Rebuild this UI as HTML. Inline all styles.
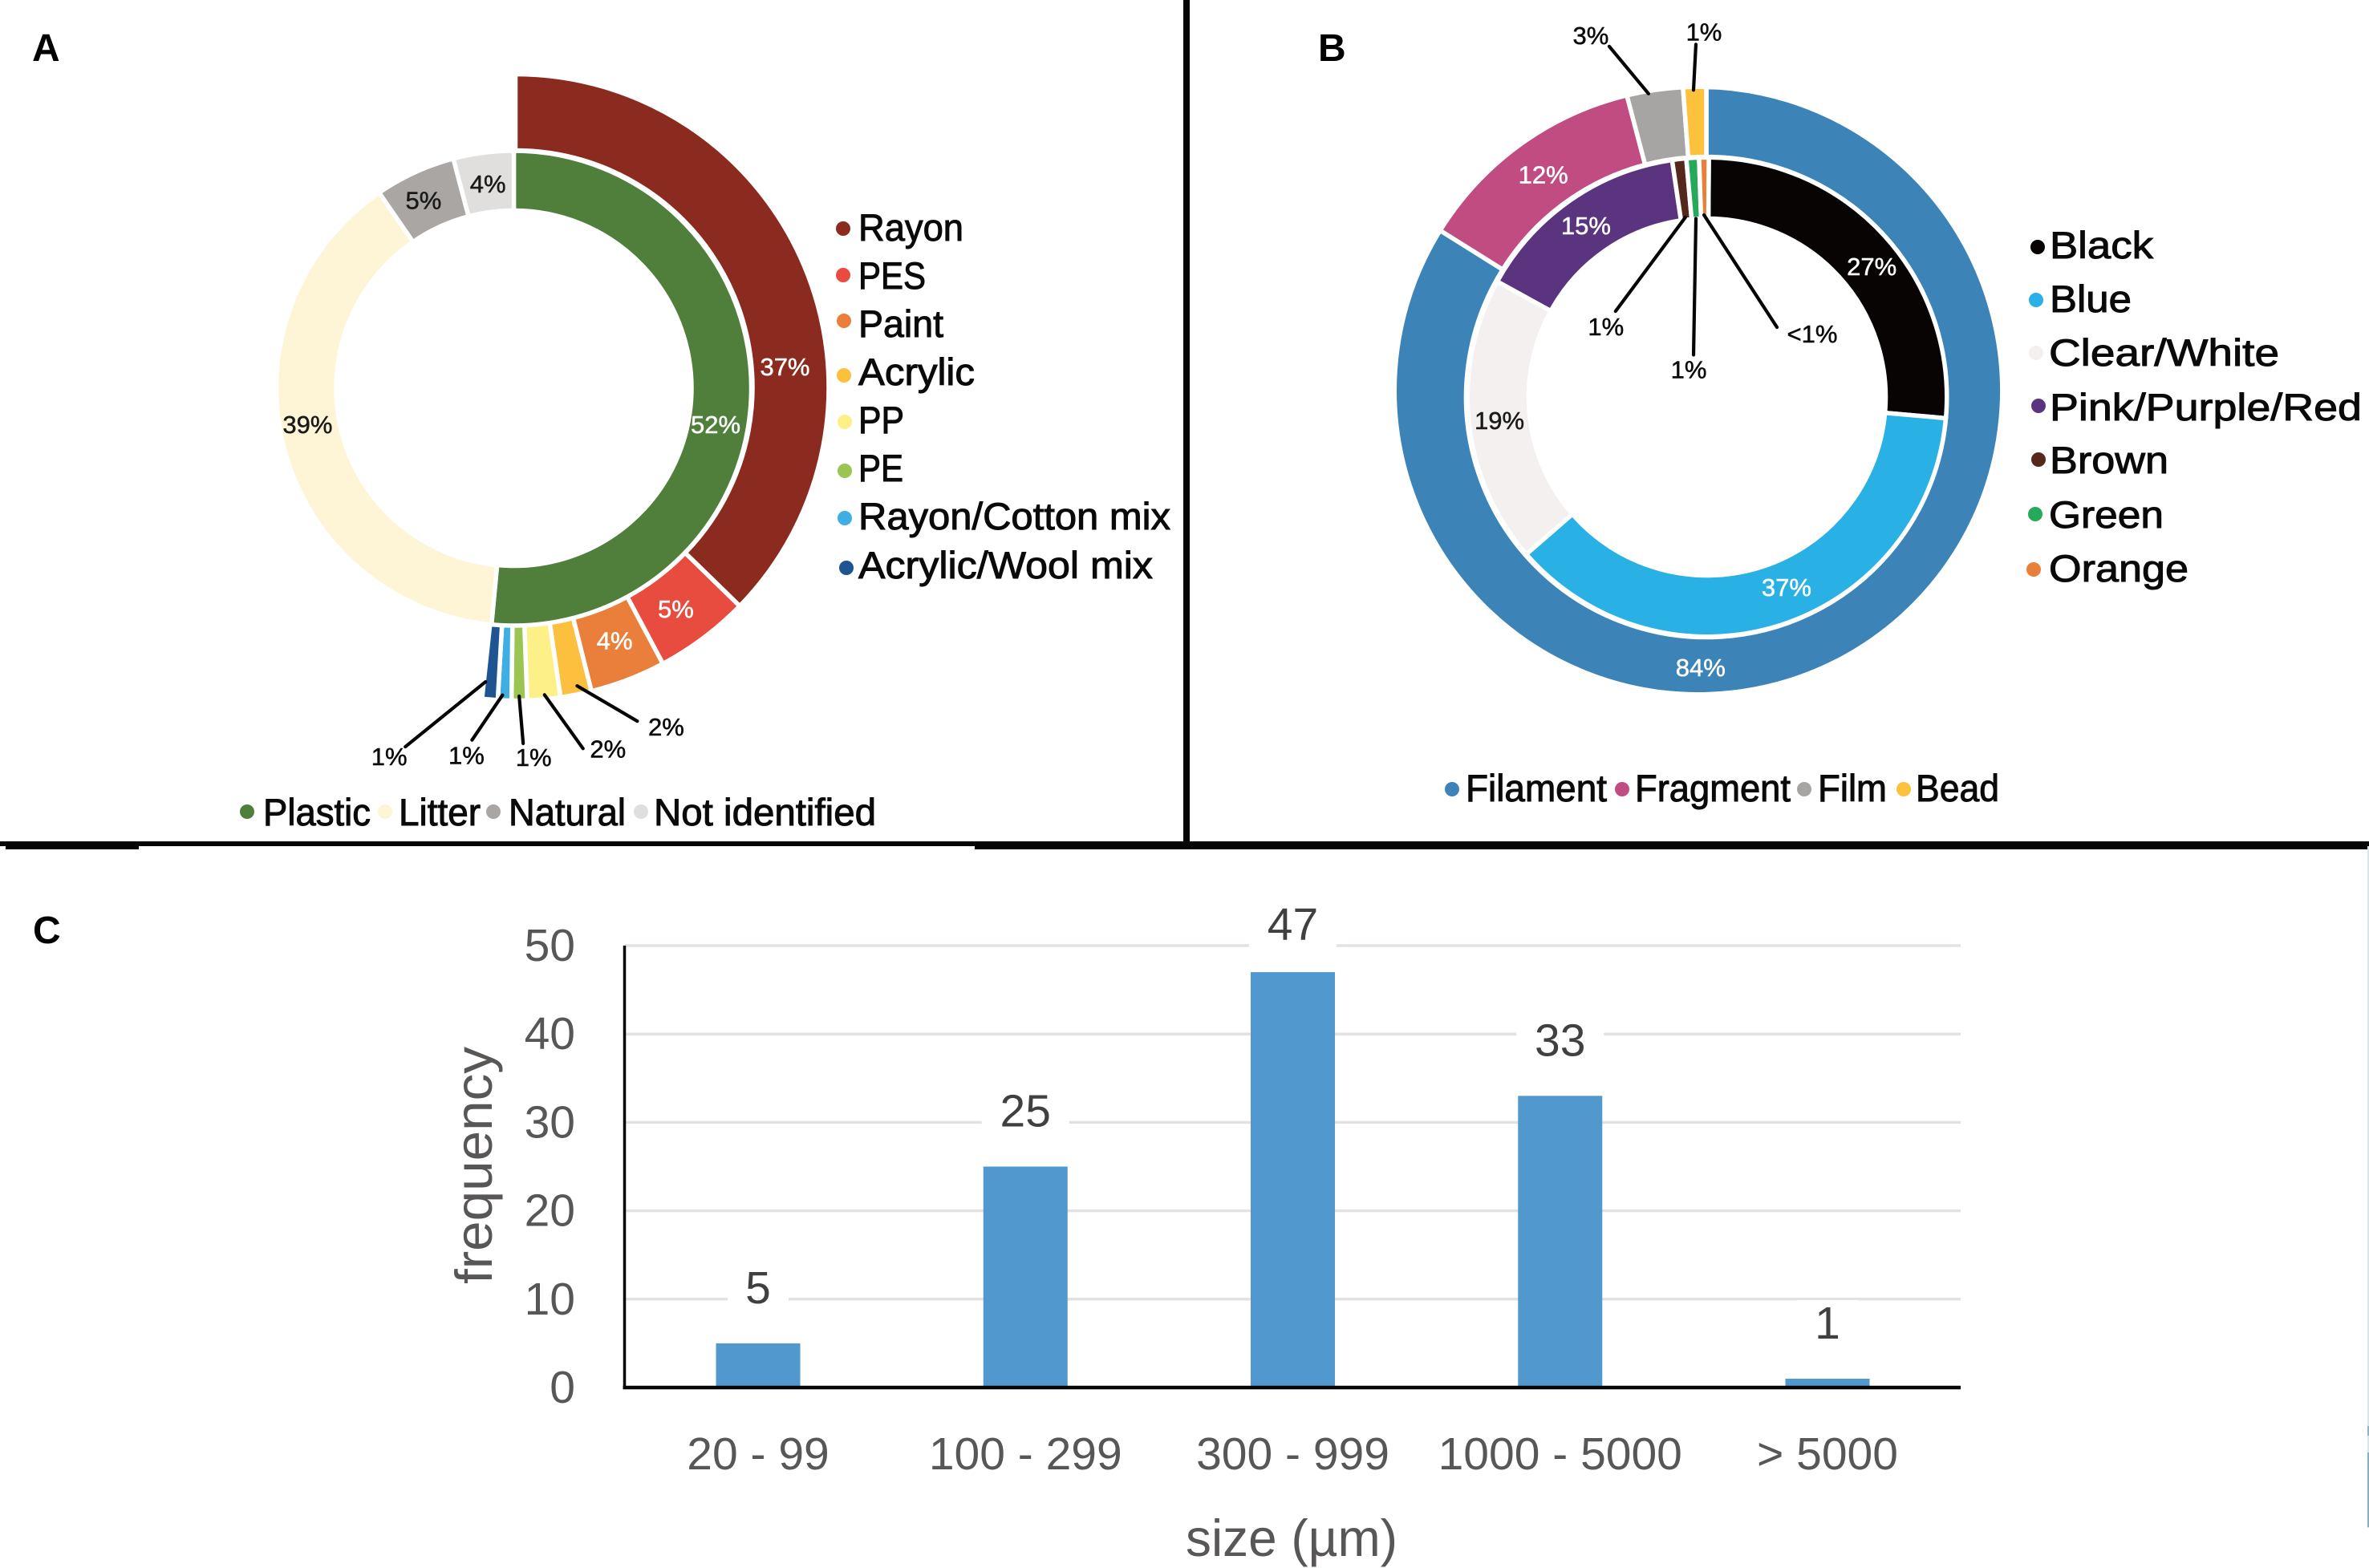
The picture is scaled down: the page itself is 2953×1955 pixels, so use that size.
<!DOCTYPE html>
<html lang="en">
<head>
<meta charset="utf-8">
<title>Microplastic composition and size distribution</title>
<style>
html,body{margin:0;padding:0;background:#fff;}
svg{display:block;}
text{font-family:"Liberation Sans",sans-serif;}
.legend{font-size:47px;fill:#0a0a0a;stroke:#0a0a0a;stroke-width:1px;}
.panel{font-size:48px;font-weight:bold;fill:#000;}
.pct{font-size:31px;text-anchor:middle;stroke-width:.5px;}
.axis{font-size:57px;fill:#595656;}
.title{font-size:65px;fill:#595656;}
</style>
</head>
<body>
<svg id="fig" xmlns="http://www.w3.org/2000/svg" width="2953" height="1955" viewBox="0 0 2953 1955">
<rect x="0" y="0" width="2953" height="1955" fill="#ffffff"/>

<g fill="#050505">
  <rect x="1475" y="0" width="8" height="1052"/>
  <rect x="0" y="1049" width="2953" height="6"/>
  <rect x="7" y="1052" width="166" height="7"/>
  <rect x="1215" y="1052" width="1738" height="7"/>
</g>
<g>
  <rect x="2951" y="1055" width="2" height="850" fill="#d5e6ea"/>
  <rect x="2951" y="1778" width="2" height="12" fill="#8ab6c6"/>
  <rect x="2951" y="1811" width="2" height="93" fill="#7fb2c4"/>
</g>

<text class="panel" x="40" y="76">A</text>
<text class="panel" x="1643" y="76">B</text>
<text class="panel" x="41" y="1176">C</text>

<g id="chartA"></g>
<g id="chartB"></g>
<g id="chartC"></g>

<g>
  <g><circle cx="1051" cy="285" r="9" fill="#8B2A1E"/><text class="legend" x="1070" y="300" textLength="131" lengthAdjust="spacingAndGlyphs">Rayon</text></g>
  <g><circle cx="1051" cy="343" r="9" fill="#E74C3F"/><text class="legend" x="1070" y="360" textLength="84" lengthAdjust="spacingAndGlyphs">PES</text></g>
  <g><circle cx="1052" cy="400" r="9" fill="#E97F3A"/><text class="legend" x="1070" y="420" textLength="106" lengthAdjust="spacingAndGlyphs">Paint</text></g>
  <g><circle cx="1052" cy="468" r="9" fill="#FCBF3E"/><text class="legend" x="1070" y="480" textLength="145" lengthAdjust="spacingAndGlyphs">Acrylic</text></g>
  <g><circle cx="1053" cy="526" r="9" fill="#FEF089"/><text class="legend" x="1070" y="540" textLength="57" lengthAdjust="spacingAndGlyphs">PP</text></g>
  <g><circle cx="1053" cy="587" r="9" fill="#9BC552"/><text class="legend" x="1070" y="600" textLength="56" lengthAdjust="spacingAndGlyphs">PE</text></g>
  <g><circle cx="1053" cy="646" r="9" fill="#3FAEE2"/><text class="legend" x="1070" y="660" textLength="389" lengthAdjust="spacingAndGlyphs">Rayon/Cotton mix</text></g>
  <g><circle cx="1055" cy="708" r="9" fill="#1F5493"/><text class="legend" x="1070" y="721" textLength="367" lengthAdjust="spacingAndGlyphs">Acrylic/Wool mix</text></g>
</g>
<g>
  <g><circle cx="308" cy="1012" r="9" fill="#4F7F3B"/><text class="legend" x="328" y="1029" textLength="134" lengthAdjust="spacingAndGlyphs">Plastic</text></g>
  <g><circle cx="480" cy="1012" r="9" fill="#FEF5D6"/><text class="legend" x="497" y="1029" textLength="102" lengthAdjust="spacingAndGlyphs">Litter</text></g>
  <g><circle cx="615" cy="1012" r="9" fill="#A9A6A3"/><text class="legend" x="634" y="1029" textLength="146" lengthAdjust="spacingAndGlyphs">Natural</text></g>
  <g><circle cx="799" cy="1012" r="9" fill="#E1DFDD"/><text class="legend" x="815" y="1029" textLength="277" lengthAdjust="spacingAndGlyphs">Not identified</text></g>
</g>
<g>
  <g><circle cx="2540" cy="308" r="9" fill="#070403"/><text class="legend" x="2555" y="322" textLength="129" lengthAdjust="spacingAndGlyphs">Black</text></g>
  <g><circle cx="2538" cy="374" r="9" fill="#29B0E5"/><text class="legend" x="2555" y="389" textLength="102" lengthAdjust="spacingAndGlyphs">Blue</text></g>
  <g><circle cx="2538" cy="440" r="9" fill="#F4F0EF"/><text class="legend" x="2554" y="456" textLength="287" lengthAdjust="spacingAndGlyphs">Clear/White</text></g>
  <g><circle cx="2541" cy="506" r="9" fill="#5B3480"/><text class="legend" x="2555" y="524" textLength="389" lengthAdjust="spacingAndGlyphs">Pink/Purple/Red</text></g>
  <g><circle cx="2541" cy="573" r="9" fill="#54281B"/><text class="legend" x="2555" y="590" textLength="148" lengthAdjust="spacingAndGlyphs">Brown</text></g>
  <g><circle cx="2537" cy="641" r="9" fill="#27A95B"/><text class="legend" x="2554" y="658" textLength="143" lengthAdjust="spacingAndGlyphs">Green</text></g>
  <g><circle cx="2535" cy="710" r="9" fill="#E87F3A"/><text class="legend" x="2554" y="725" textLength="174" lengthAdjust="spacingAndGlyphs">Orange</text></g>
</g>
<g>
  <g><circle cx="1810" cy="984" r="9" fill="#3C83B8"/><text class="legend" x="1827" y="999" textLength="176" lengthAdjust="spacingAndGlyphs">Filament</text></g>
  <g><circle cx="2022" cy="984" r="9" fill="#C04C82"/><text class="legend" x="2038" y="999" textLength="194" lengthAdjust="spacingAndGlyphs">Fragment</text></g>
  <g><circle cx="2249" cy="984" r="9" fill="#A6A5A3"/><text class="legend" x="2266" y="999" textLength="86" lengthAdjust="spacingAndGlyphs">Film</text></g>
  <g><circle cx="2373" cy="984" r="9" fill="#FDC13C"/><text class="legend" x="2388" y="999" textLength="104" lengthAdjust="spacingAndGlyphs">Bead</text></g>
</g>

<text class="title" x="1610" y="1940" text-anchor="middle" textLength="264" lengthAdjust="spacingAndGlyphs">size (µm)</text>
<text class="title" transform="translate(613 1453) rotate(-90)" text-anchor="middle" textLength="296" lengthAdjust="spacingAndGlyphs">frequency</text>
</svg>

<script>
// ---- Panel A data (percent of all particles) ----
const compositionCategories = ['plastic', 'litter', 'natural', 'not-identified'];
const compositionValues = [51.5, 38.9, 5.5, 4.1];
const compositionLabels = ['52%', '39%', '5%', '4%'];
const polymerCategories = ['rayon', 'pes', 'paint', 'acrylic', 'pp', 'pe', 'rayon-cotton-mix', 'acrylic-wool-mix'];
const polymerValues = [37.3, 4.9, 3.9, 1.6, 1.7, 0.8, 0.7, 0.8];
const polymerLabels = ['37%', '5%', '4%', '2%', '2%', '1%', '1%', '1%'];

// ---- Panel B data ----
const shapeCategories = ['filament', 'fragment', 'film', 'bead'];
const shapeValues = [83.9, 12, 2.9, 1.2];
const shapeLabels = ['84%', '12%', '3%', '1%'];
const colourCategories = ['black', 'blue', 'clear-white', 'pink-purple-red', 'brown', 'green', 'orange'];
const colourValues = [26.3, 37.2, 19.4, 14.65, 0.95, 0.85, 0.65];
const colourLabels = ['27%', '37%', '19%', '15%', '1%', '1%', '<1%'];

// ---- Panel C data ----
const sizeCategories = ['20 - 99', '100 - 299', '300 - 999', '1000 - 5000', '> 5000'];
const sizeFrequencies = [5, 25, 47, 33, 1];
const frequencyTicks = [0, 10, 20, 30, 40, 50];

const sliceColours = {
  'plastic': '#4F7F3B', 'litter': '#FEF5D6', 'natural': '#A9A6A3', 'not-identified': '#E1DFDD',
  'rayon': '#8B2A1E', 'pes': '#E74C3F', 'paint': '#E97F3A', 'acrylic': '#FCBF3E', 'pp': '#FEF089',
  'pe': '#9BC552', 'rayon-cotton-mix': '#3FAEE2', 'acrylic-wool-mix': '#1F5493',
  'filament': '#3C83B8', 'fragment': '#C04C82', 'film': '#A6A5A3', 'bead': '#FDC13C',
  'black': '#070403', 'blue': '#29B0E5', 'clear-white': '#F4F0EF', 'pink-purple-red': '#5B3480',
  'brown': '#54281B', 'green': '#27A95B', 'orange': '#E87F3A'
};

const SVGNS = 'http://www.w3.org/2000/svg';
function make(tag, attrs, parent, name) {
  const el = document.createElementNS(SVGNS, tag);
  Object.keys(attrs).forEach(function (k) { el.setAttribute(k, attrs[k]); });
  
  
  parent.appendChild(el);
  return el;
}

// angle axis: percent -> degrees clockwise from north
function percentToDeg(p) { return p * 3.6; }
function polar(cx, cy, r, deg) {
  const a = deg * Math.PI / 180;
  return [cx + r * Math.sin(a), cy - r * Math.cos(a)];
}
// where a ray from the ring centre meets the (possibly off-centre) outer circle
function rayToCircle(ring, deg) {
  const a = deg * Math.PI / 180;
  const dx = Math.sin(a), dy = -Math.cos(a);
  const ox = ring.cx - ring.outer.cx, oy = ring.cy - ring.outer.cy;
  const b = ox * dx + oy * dy;
  const c = ox * ox + oy * oy - ring.outer.r * ring.outer.r;
  const t = -b + Math.sqrt(b * b - c);
  return [ring.cx + t * dx, ring.cy + t * dy];
}
function slicePath(ring, a0, a1) {
  const large = (a1 - a0) > 180 ? 1 : 0;
  const i0 = polar(ring.cx, ring.cy, ring.ri, a0), i1 = polar(ring.cx, ring.cy, ring.ri, a1);
  const o0 = rayToCircle(ring, a0), o1 = rayToCircle(ring, a1);
  return 'M' + i0.join(' ') + 'L' + o0.join(' ') +
    'A' + ring.outer.r + ' ' + ring.outer.r + ' 0 ' + large + ' 1 ' + o1.join(' ') +
    'L' + i1.join(' ') +
    'A' + ring.ri + ' ' + ring.ri + ' 0 ' + large + ' 0 ' + i0.join(' ') + 'Z';
}
function drawRing(parent, ring, categories, values, startDeg) {
  let cum = 0;
  const spans = [];
  values.forEach(function (v, i) {
    const a0 = startDeg + percentToDeg(cum);
    cum += v;
    const a1 = startDeg + percentToDeg(cum);
    spans.push([a0, a1]);
    make('path', { d: slicePath(ring, a0, a1), fill: sliceColours[categories[i]], stroke: '#ffffff', 'stroke-width': 5.5, 'stroke-linejoin': 'miter' }, parent, 'slice-' + categories[i]);
  });
  return { ring: ring, spans: spans, categories: categories };
}
function sliceAngle(r, i, t) { return r.spans[i][0] + (r.spans[i][1] - r.spans[i][0]) * t; }
function pctText(parent, x, y, str, fill, name) {
  const t = make('text', { x: x, y: y + 11, fill: fill, stroke: fill, class: 'pct' }, parent, name);
  t.textContent = str;
}
// label sitting inside a slice: t = fraction along the slice, rad = radius
function ringLabel(parent, r, i, t, rad, labels, fill) {
  const p = polar(r.ring.cx, r.ring.cy, rad, sliceAngle(r, i, t));
  pctText(parent, p[0], p[1], labels[i], fill, 'value-label-' + r.categories[i]);
}
// leader line starting on a slice, then label beyond its end
function callout(parent, r, i, t, rad, dx, dy, lx, ly, labels) {
  const p = polar(r.ring.cx, r.ring.cy, rad, sliceAngle(r, i, t));
  make('line', { x1: p[0], y1: p[1], x2: p[0] + dx, y2: p[1] + dy, stroke: '#050505', 'stroke-width': 4.2, 'stroke-linecap': 'round' }, parent, 'leader-line-' + r.categories[i]);
  pctText(parent, p[0] + dx + lx, p[1] + dy + ly, labels[i], '#0a0a0a', 'value-label-' + r.categories[i]);
}

// ---- Panel A ----
const gA = document.getElementById('chartA');
const ringAInner = { cx: 640.5, cy: 484, ri: 221.5, outer: { cx: 640.5, cy: 484, r: 296 } };
const ringAOuter = { cx: 642.5, cy: 483, ri: 295.5, outer: { cx: 642.5, cy: 483, r: 390.5 } };
const rOuterA = drawRing(gA, ringAOuter, polymerCategories, polymerValues, 0);
const rInnerA = drawRing(gA, ringAInner, compositionCategories, compositionValues, 0);
ringLabel(gA, rInnerA, 0, 0.54, 255.5, compositionLabels, '#ffffff');
ringLabel(gA, rInnerA, 1, 0.533, 261, compositionLabels, '#1a1a1a');
ringLabel(gA, rInnerA, 2, 0.45, 260, compositionLabels, '#1a1a1a');
ringLabel(gA, rInnerA, 3, 0.51, 257, compositionLabels, '#1a1a1a');
ringLabel(gA, rOuterA, 0, 0.637, 337, polymerLabels, '#ffffff');
ringLabel(gA, rOuterA, 1, 0.557, 341, polymerLabels, '#ffffff');
ringLabel(gA, rOuterA, 2, 0.476, 339, polymerLabels, '#ffffff');
callout(gA, rOuterA, 3, 0.41, 380, 75, 44, 36, 7, polymerLabels);
callout(gA, rOuterA, 4, 0.47, 385, 48, 67, 31, 0, polymerLabels);
callout(gA, rOuterA, 5, 0.51, 385, 5, 59, 13, 17, polymerLabels);
callout(gA, rOuterA, 6, 0.67, 384, -38, 56, -7, 19, polymerLabels);
callout(gA, rOuterA, 7, 0.89, 369, -100, 81, -20, 12, polymerLabels);

// ---- Panel B ----
const gB = document.getElementById('chartB');
const ringBOuter = { cx: 2127, cy: 495, ri: 299.5, outer: { cx: 2117, cy: 487, r: 378.75 } };
const ringBInner = { cx: 2128, cy: 495, ri: 222.5, outer: { cx: 2128, cy: 495, r: 298.75 } };
const rOuterB = drawRing(gB, ringBOuter, shapeCategories, shapeValues, 0);
const rInnerB = drawRing(gB, ringBInner, colourCategories, colourValues, 0.4);
ringLabel(gB, rOuterB, 0, 0.6, 337, shapeLabels, '#ffffff');
ringLabel(gB, rOuterB, 1, 0.503, 344, shapeLabels, '#ffffff');
ringLabel(gB, rInnerB, 0, 0.54, 262, colourLabels, '#ffffff');
ringLabel(gB, rInnerB, 1, 0.465, 257, colourLabels, '#ffffff');
ringLabel(gB, rInnerB, 2, 0.495, 260.6, colourLabels, '#1a1a1a');
ringLabel(gB, rInnerB, 3, 0.492, 262, colourLabels, '#ffffff');
callout(gB, rOuterB, 2, 0.38, 385, -49, -59, -23, -14, shapeLabels);
callout(gB, rOuterB, 3, 0.445, 383, 3, -57, 10, -16, shapeLabels);
callout(gB, rInnerB, 4, 0.44, 225.6, -87, 117, -12, 19, colourLabels);
callout(gB, rInnerB, 5, 0.46, 223, -3, 170, -6, 18, colourLabels);
callout(gB, rInnerB, 6, 0.4, 227, 91, 140, 44, 8, colourLabels);

// ---- Panel C ----
const gC = document.getElementById('chartC');
const plotLeft = 778.5, plotRight = 2444, plotBottom = 1730, pxPerUnit = 11.02;
const firstCentre = 945, categoryStep = 333.25, barWidth = 105;
function yScale(v) { return plotBottom - v * pxPerUnit; }
function xScale(i) { return firstCentre + i * categoryStep; }

frequencyTicks.forEach(function (tick) {
  if (tick > 0) {
    make('line', { x1: plotLeft, x2: plotRight, y1: yScale(tick), y2: yScale(tick), stroke: '#E6E1E1', 'stroke-width': 3.5 }, gC, 'gridline-' + tick);
  }
  const label = make('text', { x: 717, y: yScale(tick) + 19, 'text-anchor': 'end', class: 'axis' }, gC, 'y-tick-label-' + tick);
  label.textContent = String(tick);
});
sizeFrequencies.forEach(function (v, i) {
  const cx = xScale(i), top = yScale(v);
  const baseline = v > 45 ? top - 40 : top - 50;
  const str = String(v);
  const boxW = str.length > 1 ? 109 : 76;
  make('rect', { x: cx - boxW / 2, y: baseline - 48, width: boxW, height: 76, fill: '#ffffff' }, gC, 'data-label-background-' + i);
  make('rect', { x: cx - barWidth / 2, y: top, width: barWidth, height: plotBottom - top, fill: '#5098CE' }, gC, 'bar-' + i);
  const t = make('text', { x: cx, y: baseline, 'text-anchor': 'middle', class: 'axis', style: 'fill:#404040' }, gC, 'bar-value-label-' + i);
  t.textContent = str;
  const xl = make('text', { x: cx, y: 1832, 'text-anchor': 'middle', class: 'axis' }, gC, 'x-tick-label-' + i);
  xl.textContent = sizeCategories[i];
});
make('line', { x1: plotLeft, x2: plotLeft, y1: yScale(50), y2: plotBottom, stroke: '#050505', 'stroke-width': 3.5 }, gC, 'y-axis-line');
make('line', { x1: plotLeft - 2, x2: plotRight, y1: plotBottom, y2: plotBottom, stroke: '#050505', 'stroke-width': 4.5 }, gC, 'x-axis-line');
</script>
</body>
</html>
